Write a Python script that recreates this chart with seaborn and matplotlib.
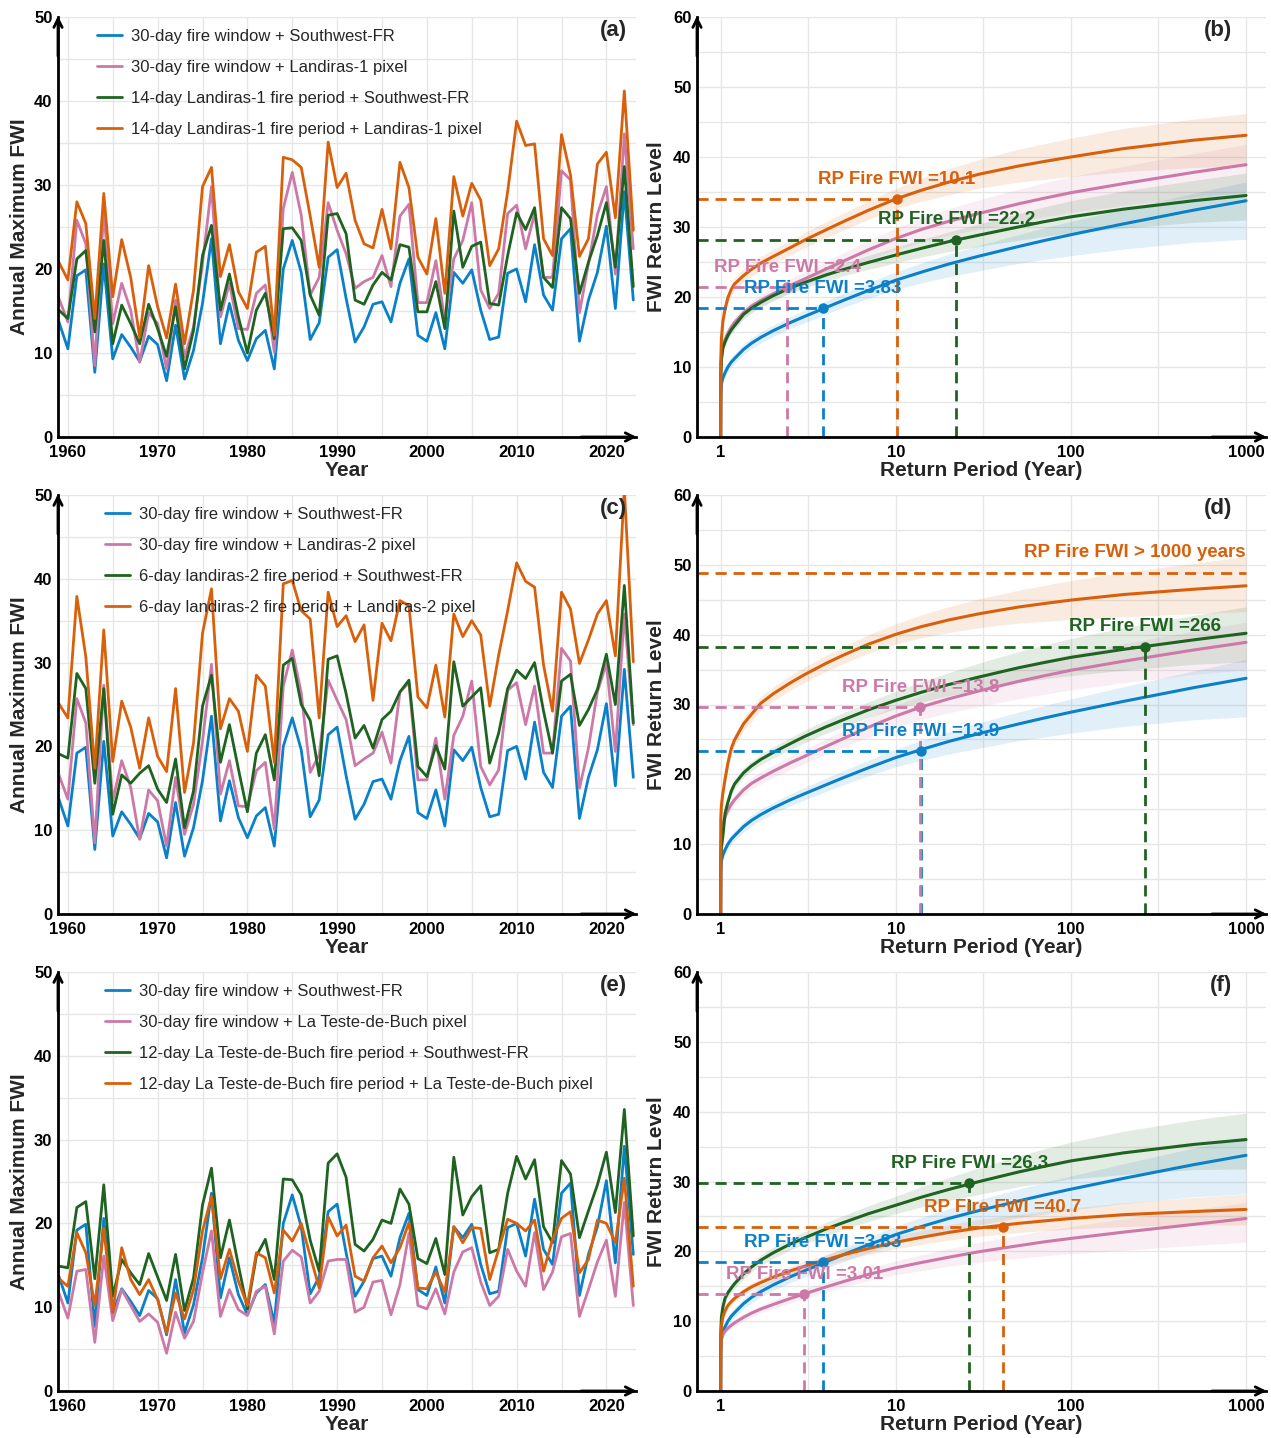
import matplotlib
matplotlib.use("Agg")
import matplotlib.pyplot as plt
from matplotlib.ticker import FixedLocator, NullFormatter
import seaborn as sns

sns.set_theme(style="white")
plt.rcParams["font.family"] = ["Liberation Sans", "DejaVu Sans"]

BLUE = "#0a80c9"
PINK = "#cc79a7"
GREEN = "#1e6320"
ORANGE = "#d9600b"

# =============================================================================
# Annual maximum FWI, 1959-2023
# =============================================================================
years = list(range(1959, 2024))

sw_30d = [13.7, 10.5, 19.2, 19.9, 7.7, 20.6, 9.3, 12.2, 10.7, 9.0,
          12.0, 11.0, 6.7, 13.3, 6.9, 10.3, 15.9, 23.6, 11.1, 15.9,
          11.5, 9.1, 11.7, 12.7, 8.1, 20.0, 23.4, 19.6, 11.6, 13.6,
          21.4, 22.3,
          16.5, 11.3, 13.1, 15.8, 16.1, 13.7, 18.3, 21.2, 12.1, 11.4,
          14.8, 10.5, 19.6, 18.3, 19.9, 15.1, 11.6, 11.9, 19.5, 20.0,
          16.1, 22.9, 16.9, 15.1, 23.6, 24.8, 11.4, 16.3, 19.6, 25.1,
          15.3, 29.2, 16.3]

# panel (a)
l1_pixel_30d = [16.5, 13.7, 25.8, 23.0, 8.5, 27.0, 13.5, 18.3, 15.1, 8.9,
                14.8, 13.5, 8.1, 16.3, 9.5, 13.1, 20.6, 29.8, 14.3, 18.3,
                12.9, 12.8, 17.1, 18.1, 10.1, 27.2, 31.5, 26.4, 16.9, 19.0,
                27.9, 24.6,
                21.8, 17.7, 18.5, 19.0, 21.6, 17.9, 26.3, 27.7, 16.0, 16.0,
                21.0, 13.9, 21.2, 23.4, 27.9, 17.5, 15.3, 17.1, 26.6, 27.6,
                22.4, 26.6, 19.0, 19.0, 31.7, 30.6, 14.8, 20.6, 26.5, 29.8,
                19.4, 36.1, 22.4]
l1_sw_14d = [15.1, 14.1, 21.2, 22.2, 12.5, 23.4, 11.1, 15.7, 13.5, 11.1,
             15.8, 12.9, 9.6, 15.5, 8.1, 12.7, 21.6, 25.2, 15.1, 19.4,
             14.3, 10.0, 15.1, 17.1, 11.7, 24.8, 24.9, 23.4, 16.9, 14.5,
             26.4, 26.6,
             24.2, 16.3, 15.8, 18.1, 19.6, 18.7, 22.9, 22.6, 14.9, 14.9,
             18.5, 12.9, 26.9, 20.2, 22.7, 23.2, 15.9, 15.7, 21.6, 26.7,
             24.7, 27.3, 19.0, 17.8, 27.3, 26.0, 17.1, 20.8, 24.0, 27.9,
             20.2, 32.2, 17.9]
l1_pixel_14d = [20.8, 18.7, 28.0, 25.4, 14.1, 29.0, 16.7, 23.5, 19.0, 11.9,
                20.4, 15.5, 11.8, 18.2, 11.1, 17.5, 29.8, 32.1, 19.1, 22.9,
                17.3, 15.3, 22.0, 22.7, 12.1, 33.3, 33.0, 32.1, 26.3, 20.2,
                35.1, 29.7,
                31.4, 25.8, 23.0, 22.5, 27.1, 22.4, 32.7, 29.7, 21.4, 19.4,
                26.0, 17.1, 31.0, 26.3, 30.2, 28.2, 20.4, 22.4, 29.2, 37.6,
                34.7, 34.9, 23.6, 21.6, 36.0, 31.2, 21.5, 23.6, 32.5, 33.9,
                26.1, 41.2, 24.6]

# panel (c)
l2_pixel_30d = [16.6, 13.7, 25.7, 22.8, 8.5, 27.3, 13.5, 18.3, 15.1, 8.9,
                14.8, 13.5, 8.1, 16.3, 9.5, 13.1, 20.6, 29.8, 14.3, 18.3,
                12.9, 12.8, 17.1, 18.1, 10.1, 27.2, 31.5, 26.4, 16.9, 19.0,
                27.9, 25.5,
                23.2, 17.7, 18.5, 19.2, 21.7, 18.0, 26.5, 27.6, 16.0, 16.0,
                21.0, 13.7, 21.3, 23.6, 27.8, 17.6, 15.4, 17.2, 26.7, 27.6,
                22.6, 27.2, 19.2, 19.2, 31.7, 30.2, 15.0, 19.8, 26.5, 29.9,
                19.4, 35.8, 22.6]
l2_sw_6d = [19.1, 18.6, 28.7, 26.9, 15.6, 26.9, 11.9, 16.6, 15.6, 16.8,
            17.7, 14.9, 13.3, 18.5, 10.3, 14.7, 24.8, 28.5, 18.1, 22.6,
            17.3, 12.2, 19.2, 21.4, 16.0, 29.7, 30.5, 25.0, 23.1, 16.5,
            30.4, 30.8,
            26.3, 21.0, 22.5, 19.8, 23.2, 24.2, 26.5, 27.9, 17.6, 16.4,
            20.1, 17.3, 30.1, 24.8, 25.9, 27.0, 18.0, 21.6, 26.9, 29.1,
            28.1, 30.0, 24.2, 19.2, 27.8, 28.6, 22.5, 24.4, 26.8, 31.0,
            25.0, 39.2, 22.8]
l2_pixel_6d = [25.1, 23.4, 37.9, 30.7, 17.4, 33.9, 18.2, 25.4, 22.3, 17.4,
               23.4, 18.8, 17.0, 26.9, 14.5, 20.4, 33.5, 38.8, 22.1, 25.7,
               24.2, 19.4, 28.5, 27.2, 18.1, 39.4, 39.8, 36.2, 35.2, 23.4,
               38.4, 34.3,
               35.6, 32.5, 34.5, 25.5, 34.7, 32.6, 37.4, 36.8, 25.9, 24.6,
               29.7, 23.5, 35.8, 33.1, 35.0, 33.3, 24.8, 30.9, 36.2, 41.9,
               39.7, 39.0, 29.7, 24.2, 38.4, 36.4, 29.9, 32.7, 35.8, 37.4,
               30.8, 50.8, 30.1]

# panel (e)
lt_pixel_30d = [11.7, 8.7, 14.3, 14.5, 5.8, 16.1, 8.4, 12.1, 10.2, 8.3,
                9.2, 8.2, 4.5, 9.4, 6.3, 8.3, 14.1, 19.1, 8.9, 12.1,
                9.7, 9.0, 11.9, 12.5, 6.8, 15.5, 16.8, 16.0, 10.5, 11.9,
                15.5, 15.7,
                15.7, 9.4, 10.0, 13.0, 13.2, 9.1, 12.7, 18.8, 10.2, 9.8,
                12.2, 9.2, 14.2, 16.6, 17.1, 13.0, 10.2, 11.3, 16.9, 14.3,
                12.5, 18.9, 12.1, 14.2, 18.4, 18.8, 8.9, 12.1, 15.4, 18.0,
                11.3, 22.5, 10.2]
lt_sw_12d = [14.9, 14.7, 21.9, 22.6, 13.4, 24.6, 11.3, 15.7, 14.1, 12.7,
             16.4, 13.6, 10.8, 16.3, 9.6, 13.5, 22.2, 26.6, 15.9, 20.4,
             15.0, 9.8, 16.1, 18.1, 13.3, 25.3, 25.2, 23.4, 18.0, 14.3,
             27.2, 28.3,
             25.5, 17.5, 16.7, 18.1, 20.4, 20.0, 24.1, 22.3, 15.8, 15.2,
             18.2, 13.9, 27.9, 21.0, 23.2, 24.5, 16.5, 16.9, 23.6, 28.0,
             25.3, 27.6, 19.6, 17.7, 27.5, 25.9, 18.3, 21.5, 24.6, 28.5,
             21.3, 33.6, 18.5]
lt_pixel_12d = [13.4, 12.5, 18.9, 16.5, 10.2, 19.4, 9.4, 17.1, 13.3, 11.5,
                13.3, 10.9, 6.9, 11.7, 8.6, 12.1, 19.1, 23.2, 13.4, 16.9,
                13.1, 10.2, 16.5, 15.9, 11.7, 19.2, 17.9, 20.0, 16.1, 12.3,
                20.8, 18.5,
                19.8, 13.7, 13.1, 15.9, 17.3, 15.3, 17.1, 20.1, 12.3, 12.2,
                14.2, 11.8, 19.6, 17.7, 19.5, 19.4, 13.3, 16.9, 20.5, 20.0,
                19.1, 20.4, 14.3, 18.1, 20.6, 21.4, 14.1, 15.7, 20.4, 20.0,
                17.7, 25.4, 12.5]

labels_a = ["30-day fire window + Southwest-FR",
            "30-day fire window + Landiras-1 pixel",
            "14-day Landiras-1 fire period + Southwest-FR",
            "14-day Landiras-1 fire period + Landiras-1 pixel"]
labels_c = ["30-day fire window + Southwest-FR",
            "30-day fire window + Landiras-2 pixel",
            "6-day landiras-2 fire period + Southwest-FR",
            "6-day landiras-2 fire period + Landiras-2 pixel"]
labels_e = ["30-day fire window + Southwest-FR",
            "30-day fire window + La Teste-de-Buch pixel",
            "12-day La Teste-de-Buch fire period + Southwest-FR",
            "12-day La Teste-de-Buch fire period + La Teste-de-Buch pixel"]

# =============================================================================
# Return level curves (value, lower CI, upper CI) read at these return periods
# =============================================================================
rp = [1.0, 1.002, 1.01, 1.03, 1.06, 1.1, 1.15, 1.2, 1.35, 1.5, 1.7, 2, 2.5,
      3, 4, 5, 7, 10, 14, 20, 30, 50, 70, 100, 200, 500, 1000]

rl_sw = [0, 6.0, 7.6, 8.45, 9.2, 10.0, 10.7, 11.2, 12.5, 13.4, 14.25, 15.2,
         16.35, 17.2, 18.5, 19.5, 20.95, 22.4, 23.55, 24.7, 25.85, 27.2,
         28.05, 28.9, 30.45, 32.4, 33.75]
rl_sw_lo = [0, 5.5, 7.0, 7.75, 8.5, 9.3, 10.0, 10.5, 11.75, 12.6, 13.45, 14.4,
            15.5, 16.3, 17.55, 18.5, 19.8, 21.1, 22.0, 22.9, 23.75, 24.8,
            25.35, 25.9, 26.85, 27.8, 28.25]
rl_sw_hi = [0, 6.5, 8.2, 9.15, 9.9, 10.7, 11.4, 11.9, 13.25, 14.2, 15.05,
            16.0, 17.2, 18.1, 19.45, 20.5, 22.05, 23.6, 24.85, 26.1, 27.4,
            28.9, 29.85, 30.8, 32.55, 34.8, 36.45]

rl_pix = [0, 9.5, 11.7, 13.0, 13.95, 14.85, 15.7, 16.35, 17.75, 18.7, 19.5,
          20.45, 21.65, 22.55, 24.0, 25.1, 26.75, 28.35, 29.65, 30.8, 31.95,
          33.3, 34.1, 34.9, 36.2, 37.8, 38.9]
rl_pix_lo = [0, 9.0, 11.1, 12.3, 13.25, 14.15, 14.95, 15.55, 16.95, 17.9,
             18.65, 19.55, 20.7, 21.55, 22.9, 23.9, 25.35, 26.75, 27.85, 28.8,
             29.7, 30.8, 31.45, 32.1, 33.1, 34.3, 35.0]
rl_pix_hi = [0, 10.0, 12.3, 13.7, 14.65, 15.55, 16.45, 17.15, 18.55, 19.5,
             20.35, 21.35, 22.6, 23.55, 25.1, 26.3, 28.1, 29.85, 31.3, 32.6,
             33.9, 35.4, 36.3, 37.2, 38.7, 40.5, 41.8]

rl_b_green = [0, 8.8, 11.0, 12.7, 13.6, 14.5, 15.3, 15.9, 17.5, 18.4, 19.25,
              20.2, 21.3, 22.05, 23.15, 23.9, 24.95, 26.0, 26.95, 27.9, 28.85,
              30.0, 30.75, 31.45, 32.55, 33.75, 34.5]
rl_b_green_lo = [0, 8.4, 10.5, 12.1, 13.0, 13.9, 14.7, 15.3, 16.85, 17.7,
                 18.55, 19.5, 20.55, 21.25, 22.3, 23.0, 23.95, 24.9, 25.7,
                 26.5, 27.25, 28.1, 28.65, 29.15, 29.85, 30.65, 31.0]
rl_b_green_hi = [0, 9.2, 11.5, 13.3, 14.2, 15.1, 15.9, 16.5, 18.15, 19.1,
                 19.95, 20.9, 22.05, 22.85, 24.0, 24.8, 25.95, 27.1, 28.2,
                 29.3, 30.45, 31.9, 32.85, 33.75, 35.15, 36.65, 37.7]

rl_b_orange = [0, 10.5, 14.0, 16.5, 18.3, 19.9, 21.1, 21.85, 23.05, 23.95,
               24.85, 25.8, 27.05, 28.1, 29.6, 30.75, 32.4, 34.0, 35.25, 36.4,
               37.55, 38.7, 39.35, 40.0, 41.2, 42.4, 43.1]
rl_b_orange_lo = [0, 10.0, 13.4, 15.8, 17.5, 19.1, 20.25, 20.95, 22.1, 22.95,
                  23.85, 24.8, 26.0, 27.0, 28.45, 29.55, 31.1, 32.6, 33.65,
                  34.6, 35.55, 36.4, 36.8, 37.2, 37.9, 38.5, 38.7]
rl_b_orange_hi = [0, 11.0, 14.6, 17.2, 19.1, 20.7, 21.95, 22.75, 24.0, 24.95,
                  25.85, 26.8, 28.1, 29.2, 30.75, 31.95, 33.75, 35.5, 36.95,
                  38.3, 39.65, 41.1, 41.9, 42.7, 44.1, 45.4, 46.2]

rl_d_green = [0, 7.7, 9.5, 11.2, 14.4, 16.0, 17.6, 18.6, 20.2, 21.2, 22.15,
              23.15, 24.4, 25.4, 26.8, 27.8, 29.25, 30.6, 31.75, 32.85, 33.95,
              35.25, 36.0, 36.75, 37.9, 39.25, 40.2]
rl_d_green_lo = [0, 7.3, 9.0, 10.6, 13.8, 15.4, 16.95, 17.9, 19.5, 20.5, 21.4,
                 22.35, 23.55, 24.5, 25.85, 26.8, 28.15, 29.4, 30.35, 31.25,
                 32.1, 33.15, 33.65, 34.15, 34.9, 35.75, 36.1]
rl_d_green_hi = [0, 8.1, 10.0, 11.8, 15.0, 16.6, 18.25, 19.3, 20.9, 21.9,
                 22.9, 23.95, 25.25, 26.3, 27.75, 28.8, 30.4, 31.9, 33.25,
                 34.55, 35.95, 37.55, 38.5, 39.45, 41.0, 42.75, 44.0]

rl_d_orange = [0, 13.5, 15.5, 17.3, 19.3, 21.6, 23.7, 24.9, 27.2, 28.6, 30.2,
               31.55, 33.1, 34.25, 35.9, 37.05, 38.65, 40.05, 41.15, 42.1,
               43.0, 43.95, 44.45, 44.95, 45.75, 46.5, 47.0]
rl_d_orange_lo = [0, 13.0, 14.9, 16.6, 18.5, 20.8, 22.85, 24.0, 26.25, 27.6,
                  29.2, 30.55, 32.05, 33.15, 34.75, 35.85, 37.35, 38.65,
                  39.55, 40.3, 41.0, 41.65, 41.9, 42.15, 42.55, 43.0, 43.3]
rl_d_orange_hi = [0, 14.0, 16.1, 18.0, 20.1, 22.4, 24.55, 25.8, 28.15, 29.6,
                  31.2, 32.55, 34.15, 35.35, 37.05, 38.25, 40.0, 41.55, 42.85,
                  44.0, 45.15, 46.35, 47.05, 47.75, 48.95, 50.2, 51.2]

rl_f_green = [0, 8.0, 10.5, 12.0, 13.3, 14.05, 14.75, 15.35, 16.75, 17.75,
              18.75, 19.8, 21.05, 21.9, 23.2, 24.1, 25.4, 26.6, 27.75, 28.85,
              30.0, 31.35, 32.15, 32.95, 34.1, 35.3, 36.0]
rl_f_green_lo = [0, 7.6, 10.0, 11.4, 12.7, 13.45, 14.1, 14.65, 16.05, 17.05,
                 18.0, 19.0, 20.2, 21.0, 22.25, 23.1, 24.3, 25.4, 26.35, 27.25,
                 28.15, 29.25, 29.8, 30.35, 31.0, 31.7, 31.8]
rl_f_green_hi = [0, 8.4, 11.0, 12.6, 13.9, 14.65, 15.4, 16.05, 17.45, 18.45,
                 19.5, 20.6, 21.9, 22.8, 24.15, 25.1, 26.55, 27.9, 29.25,
                 30.55, 32.0, 33.65, 34.65, 35.65, 37.2, 38.8, 39.8]

rl_f_orange = [0, 7.0, 9.3, 10.6, 11.5, 12.25, 12.8, 13.25, 14.2, 14.9, 15.55,
               16.3, 17.2, 17.85, 18.8, 19.5, 20.4, 21.3, 22.0, 22.7, 23.35,
               24.0, 24.35, 24.7, 25.25, 25.7, 26.0]
rl_f_orange_lo = [0, 6.7, 8.9, 10.2, 11.0, 11.75, 12.3, 12.75, 13.65, 14.3,
                  14.95, 15.7, 16.55, 17.15, 18.05, 18.7, 19.55, 20.4, 21.0,
                  21.6, 22.15, 22.7, 22.95, 23.2, 23.55, 23.75, 23.8]
rl_f_orange_hi = [0, 7.3, 9.7, 11.0, 12.0, 12.75, 13.3, 13.75, 14.75, 15.5,
                  16.15, 16.9, 17.85, 18.55, 19.55, 20.3, 21.25, 22.2, 23.0,
                  23.8, 24.55, 25.3, 25.75, 26.2, 26.95, 27.7, 28.2]

rl_f_pink = [0, 5.6, 7.3, 8.1, 8.55, 9.0, 9.4, 9.75, 10.55, 11.15, 11.75,
             12.4, 13.25, 13.9, 14.9, 15.65, 16.7, 17.65, 18.4, 19.15, 19.95,
             20.8, 21.35, 21.85, 22.75, 23.85, 24.7]
rl_f_pink_lo = [0, 5.3, 7.0, 7.7, 8.15, 8.6, 8.95, 9.25, 10.05, 10.65, 11.2,
                11.8, 12.6, 13.2, 14.15, 14.85, 15.8, 16.65, 17.25, 17.85,
                18.45, 19.0, 19.35, 19.65, 20.15, 20.85, 21.3]
rl_f_pink_hi = [0, 5.9, 7.6, 8.5, 8.95, 9.4, 9.85, 10.25, 11.05, 11.65, 12.3,
                13.0, 13.9, 14.6, 15.65, 16.45, 17.6, 18.65, 19.5, 20.35,
                21.3, 22.3, 22.95, 23.55, 24.65, 25.95, 27.0]

# return period of the observed fire FWI: (period, level, label)
marks_b = [(22.2, 28.2, "22.2", GREEN), (10.1, 34.0, "10.1", ORANGE),
           (2.4, 21.4, "2.4", PINK), (3.83, 18.4, "3.83", BLUE)]
marks_d = [(13.9, 23.4, "13.9", BLUE), (13.8, 29.7, "13.8", PINK),
           (266, 38.3, "266", GREEN)]
over_d = 48.8
marks_f = [(26.3, 29.8, "26.3", GREEN), (40.7, 23.5, "40.7", ORANGE),
           (3.83, 18.5, "3.83", BLUE), (3.01, 13.9, "3.01", PINK)]


# =============================================================================
# Helpers
# =============================================================================
W, H = 1271, 1438
DASH = (0, (4, 2.5))


def px_axes(fig, left, top, right, bottom):
    return fig.add_axes([left / W, 1 - bottom / H, (right - left) / W,
                         (bottom - top) / H])


def frame(ax, xlabel, ylabel, tag, tag_x, ylab_x):
    for s in ["top", "right"]:
        ax.spines[s].set_visible(False)
    for s in ["left", "bottom"]:
        ax.spines[s].set_linewidth(2)
        ax.spines[s].set_color("black")
    ax.set_axisbelow(True)
    ax.grid(which="both", color="#e6e6e6", lw=1)
    ax.tick_params(which="both", length=0, labelsize=12, labelcolor="black")
    ax.tick_params(axis="y", pad=4)
    ax.tick_params(axis="x", pad=6)
    for t in ax.get_xticklabels() + ax.get_yticklabels():
        t.set_fontweight("bold")
    ax.set_xlabel(xlabel, fontsize=15, fontweight="bold")
    ax.set_ylabel(ylabel, fontsize=15, fontweight="bold")
    ax.xaxis.set_label_coords(0.5, -0.058)
    ax.yaxis.set_label_coords(ylab_x, 0.5)
    arrow = dict(arrowstyle="->", color="black", lw=2, mutation_scale=15)
    ax.annotate("", xy=(1.006, 0), xytext=(0.9, 0), xycoords="axes fraction",
                arrowprops=arrow)
    ax.annotate("", xy=(0, 1.009), xytext=(0, 0.9), xycoords="axes fraction",
                arrowprops=arrow)
    ax.text(tag_x, 0.968, tag, transform=ax.transAxes, ha="right",
            va="center", fontsize=16, fontweight="bold")


def series_panel(ax, data, labels, tag, leg_x):
    colors = [BLUE, PINK, GREEN, ORANGE]
    for vals, lab, c in zip(data, labels, colors):
        sns.lineplot(x=years, y=vals, color=c, lw=2, label=lab, ax=ax)
    ax.set_xlim(1958.9, 2023.3)
    ax.set_ylim(0, 50)
    ax.set_xticks([1960, 1970, 1980, 1990, 2000, 2010, 2020])
    ax.xaxis.set_minor_locator(FixedLocator([1965, 1975, 1985, 1995, 2005,
                                             2015]))
    ax.set_yticks([0, 10, 20, 30, 40, 50])
    ax.yaxis.set_minor_locator(FixedLocator([5, 15, 25, 35, 45]))
    ax.legend(loc="upper left", bbox_to_anchor=(leg_x, 1.0), frameon=False,
              fontsize=12, handlelength=1.5, handletextpad=0.55,
              labelspacing=0.97, borderaxespad=0.3)
    frame(ax, "Year", "Annual Maximum FWI", tag, 0.985, -0.05)


def rl_panel(ax, curves, marks, tag):
    for vals, lo, hi, c in curves:
        ax.fill_between(rp, lo, hi, color=c, alpha=0.12, lw=0)
    for vals, lo, hi, c in curves:
        sns.lineplot(x=rp, y=vals, color=c, lw=2.2, ax=ax, sort=False,
                     estimator=None)
    ax.set_xscale("log")
    ax.set_xlim(0.733, 1300)
    ax.set_ylim(0, 60)
    ax.set_xticks([1, 10, 100, 1000])
    ax.set_xticklabels(["1", "10", "100", "1000"])
    ax.xaxis.set_minor_locator(FixedLocator([10 ** 0.5, 10 ** 1.5,
                                             10 ** 2.5]))
    ax.xaxis.set_minor_formatter(NullFormatter())
    ax.set_yticks([0, 10, 20, 30, 40, 50, 60])
    ax.yaxis.set_minor_locator(FixedLocator([5, 15, 25, 35, 45, 55]))
    x0 = ax.get_xlim()[0]
    for per, lvl, txt, c in marks:
        ax.plot([x0, per], [lvl, lvl], color=c, lw=2, ls=DASH)
        ax.plot([per, per], [0, lvl], color=c, lw=2, ls=DASH)
        ax.plot(per, lvl, "o", color=c, ms=6.5, zorder=5)
    for per, lvl, txt, c in marks:
        ax.text(per, lvl + 2.8, "RP Fire FWI =" + txt, color=c, ha="center",
                va="center", fontsize=13.5, fontweight="bold", zorder=10)
    frame(ax, "Return Period (Year)", "FWI Return Level", tag, 0.94, -0.055)


# =============================================================================
# Figure
# =============================================================================
fig = plt.figure(figsize=(W / 100, H / 100), dpi=100)

rows = [(17, 437), (495, 914), (972, 1391)]
ax_a = px_axes(fig, 58, rows[0][0], 636, rows[0][1])
ax_b = px_axes(fig, 697, rows[0][0], 1266, rows[0][1])
ax_c = px_axes(fig, 58, rows[1][0], 636, rows[1][1])
ax_d = px_axes(fig, 697, rows[1][0], 1266, rows[1][1])
ax_e = px_axes(fig, 58, rows[2][0], 636, rows[2][1])
ax_f = px_axes(fig, 697, rows[2][0], 1266, rows[2][1])

series_panel(ax_a, [sw_30d, l1_pixel_30d, l1_sw_14d, l1_pixel_14d],
             labels_a, "(a)", 0.047)
series_panel(ax_c, [sw_30d, l2_pixel_30d, l2_sw_6d, l2_pixel_6d],
             labels_c, "(c)", 0.061)
series_panel(ax_e, [sw_30d, lt_pixel_30d, lt_sw_12d, lt_pixel_12d],
             labels_e, "(e)", 0.061)

sw_curve = (rl_sw, rl_sw_lo, rl_sw_hi, BLUE)
pix_curve = (rl_pix, rl_pix_lo, rl_pix_hi, PINK)

rl_panel(ax_b, [sw_curve, pix_curve,
                (rl_b_green, rl_b_green_lo, rl_b_green_hi, GREEN),
                (rl_b_orange, rl_b_orange_lo, rl_b_orange_hi, ORANGE)],
         marks_b, "(b)")
rl_panel(ax_d, [sw_curve, pix_curve,
                (rl_d_green, rl_d_green_lo, rl_d_green_hi, GREEN),
                (rl_d_orange, rl_d_orange_lo, rl_d_orange_hi, ORANGE)],
         marks_d, "(d)")
ax_d.plot([ax_d.get_xlim()[0], rp[-1]], [over_d, over_d], color=ORANGE, lw=2,
          ls=DASH)
ax_d.text(rp[-1], over_d + 3.0, "RP Fire FWI > 1000 years", color=ORANGE,
          ha="right", va="center", fontsize=13.5, fontweight="bold")
rl_panel(ax_f, [sw_curve,
                (rl_f_pink, rl_f_pink_lo, rl_f_pink_hi, PINK),
                (rl_f_green, rl_f_green_lo, rl_f_green_hi, GREEN),
                (rl_f_orange, rl_f_orange_lo, rl_f_orange_hi, ORANGE)],
         marks_f, "(f)")

fig.savefig("out.png", dpi=100)
